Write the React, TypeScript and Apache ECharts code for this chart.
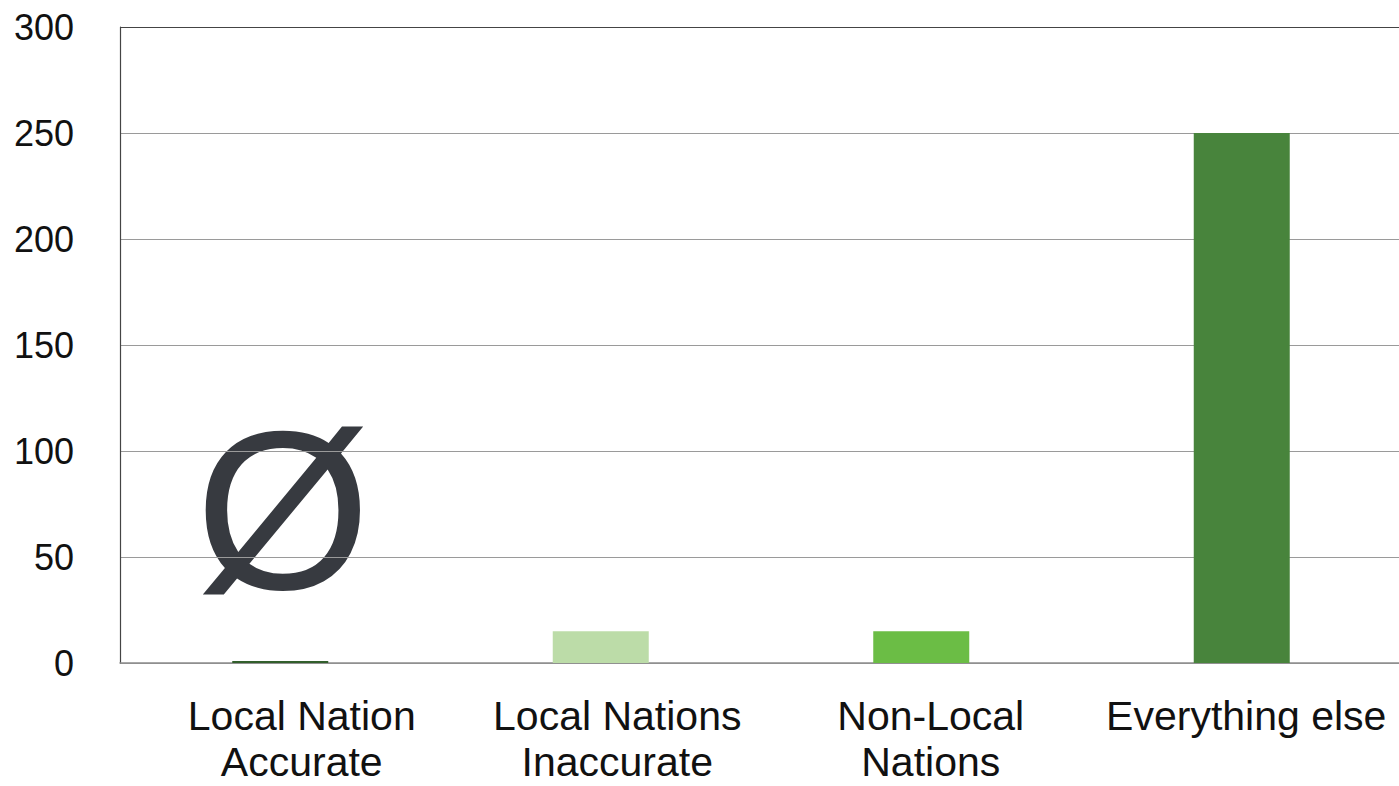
import React, { useEffect, useRef } from "react";
import * as echarts from "echarts";

const categories = ["Local Nation\nAccurate", "Local Nations\nInaccurate", "Non-Local\nNations", "Everything else"];
const values = [1, 15, 15, 250];
const barColors = ["#325f2c", "#bcdca8", "#6bbd45", "#48843c"];
const labelShift = [43, 33, 19, 9];
const yTicks = { min: 0, max: 300, interval: 50 };

export default function App() {
  const ref = useRef<HTMLDivElement>(null);
  useEffect(() => {
    if (!ref.current) return;
    const chart = echarts.init(ref.current, undefined, { renderer: "svg" });
    chart.setOption({
      animation: false,
      backgroundColor: "#ffffff",
      grid: { left: 120, right: -3, top: 27, bottom: 123, containLabel: false, outerBoundsMode: "none" },
      xAxis: {
        type: "category",
        data: categories.map((c, i) => ({
          value: c,
          textStyle: { padding: [0, 0, 0, labelShift[i]] },
        })),
        axisLine: { show: true, lineStyle: { color: "#8c8c8c", width: 1.5 } },
        axisTick: { show: false },
        axisLabel: {
          interval: 0,
          margin: 30,
          fontSize: 41,
          lineHeight: 46,
          color: "#111",
          fontFamily: "'Liberation Sans', Arial, sans-serif",
        },
      },
      yAxis: {
        type: "value",
        min: yTicks.min,
        max: yTicks.max,
        interval: yTicks.interval,
        axisLine: { show: true, lineStyle: { color: "#444", width: 1.2 } },
        axisTick: { show: false },
        axisLabel: {
          margin: 46,
          fontSize: 36,
          color: "#111",
          fontFamily: "'Liberation Sans', Arial, sans-serif",
        },
        splitLine: {
          show: true,
          lineStyle: {
            color: ["#9a9a9a", "#9a9a9a", "#9a9a9a", "#9a9a9a", "#9a9a9a", "#9a9a9a", "#444444"],
            width: 1.2,
          },
        },
      },
      series: [
        {
          type: "bar",
          barWidth: 96,
          data: values.map((v, i) => ({ value: v, itemStyle: { color: barColors[i] } })),
        },
      ],
      graphic: [
        {
          type: "text",
          left: 195,
          top: 397,
          silent: true,
          style: {
            text: "Ø",
            fontSize: 226,
            fontFamily: "'Liberation Sans', Arial, sans-serif",
            fill: "#373a40",
          },
        },
      ],
    });
    return () => chart.dispose();
  }, []);
  return (
    <div
      ref={ref}
      style={{ position: "fixed", left: 0, top: 0, width: 1399, height: 786 }}
    />
  );
}
